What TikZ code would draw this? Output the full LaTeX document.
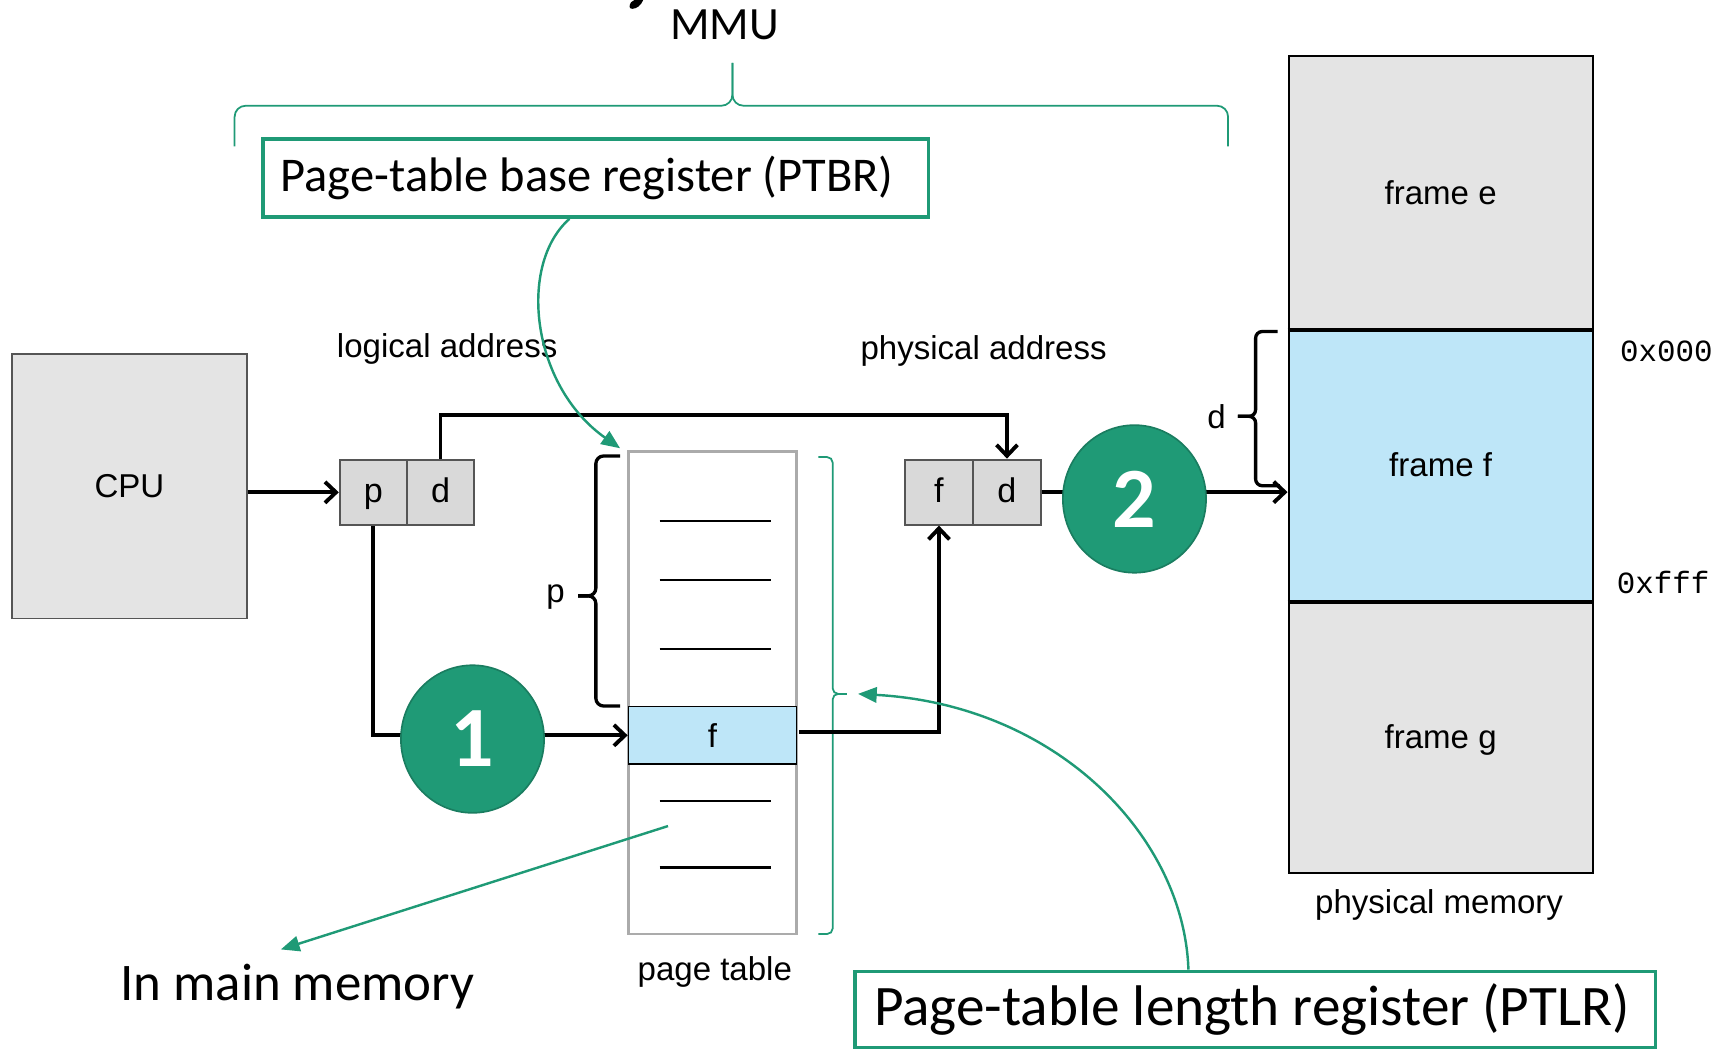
\documentclass[tikz,border=0pt]{standalone}
\usepackage{fontspec}
\setmainfont{Liberation Sans}
\newfontfamily\calfont{Carlito}
\newfontfamily\monofont{Liberation Mono}
\usetikzlibrary{arrows.meta,shapes.geometric}
\definecolor{gr}{HTML}{1F9A76}
\definecolor{grdark}{HTML}{1A7D60}
\definecolor{lblue}{HTML}{BEE6F8}
\definecolor{lgray}{HTML}{E4E4E4}
\definecolor{mgray}{HTML}{D9D9D9}
\definecolor{bgray}{HTML}{555555}
\definecolor{tgray}{HTML}{ABABAB}
\newcommand\fs[1]{\fontsize{#1}{#1}\selectfont}
\begin{document}
\begin{tikzpicture}[x=1pt,y=-1pt,
  lbl/.style={font=\fs{30}, inner sep=0pt, anchor=base},
  cell/.style={draw=bgray, line width=1.8pt, fill=mgray, inner sep=0pt,
    minimum width=61pt, minimum height=59pt, font=\fs{31},
    text height=23pt, text depth=5pt},
  frm/.style={draw=black, line width=2pt, fill=lgray, inner sep=0pt,
    minimum width=276pt, font=\fs{30}, text height=21.5pt, text depth=0pt},
  arr/.style={line width=3.5pt, -{Straight Barb[length=10pt,width=19pt,line width=3.5pt]}},
  garr/.style={draw=gr, line width=2.2pt, -{Triangle[length=17pt,width=14pt]}},
  gbrace/.style={draw=gr, line width=1.6pt, rounded corners=6pt},
  bbrace/.style={draw=black, line width=3pt, rounded corners=7pt},
  regbox/.style={draw=gr, line width=3.5pt, fill=white, inner sep=0pt},
  circ/.style={ellipse, fill=gr, draw=grdark, line width=1.5pt,
    minimum width=130pt, minimum height=134pt, inner sep=0pt,
    text=white, font=\calfont\bfseries\fs{78}}
]
\useasboundingbox (0,0) rectangle (1568,952);

% clipped fragment of a title glyph
\fill (576,0) -- (584,0) .. controls (582,5) and (578,8) .. (574,8) .. controls (571,8) and (571,5) .. (573,2) -- cycle;

% MMU brace
\node[font=\calfont\fs{42}, inner sep=0pt, anchor=base] (mmu) at (658,36.3) {MMU};
\draw[gbrace, rounded corners=10pt] (213,133) -- (213,96) -- (665,96) -- (665,57);
\draw[gbrace, rounded corners=10pt] (665,57) -- (665,96) -- (1115,96) -- (1115,133);

% PTBR box
\node[regbox, minimum width=604pt, minimum height=71pt, font=\calfont\fs{44}] (ptbr) at (541,161.5) {\hspace*{-16pt}Page-table base register (PTBR)};

% CPU
\node[draw=bgray, line width=1.5pt, fill=lgray, minimum width=213pt, minimum height=240pt, inner sep=0pt, font=\fs{30}] (cpu) at (117.5,441.5) {CPU};

% logical address
\node[lbl] (lalab) at (406,325) {logical address};
\node[cell] (lp) at (339,447) {p};
\node[cell] (ld) at (400,447) {d};

% physical address
\node[lbl] (palab) at (893,326.8) {physical address};
\node[cell, minimum width=62pt] (pf) at (852.5,446.8) {f};
\node[cell, minimum width=61.5pt] (pd) at (914.25,446.8) {d};

% page table
\node[draw=tgray, line width=2.5pt, fill=white, minimum width=152.5pt, minimum height=438pt, inner sep=0pt] (pt) at (646.75,629) {};
\node[draw=black, line width=1.2pt, fill=lblue, minimum width=152.5pt, minimum height=52pt, inner sep=0pt, font=\fs{30}] (ptf) at (646.75,667.65) {f};
\foreach \yy in {473,526.6,589.5,727.3,787.5}
  \draw[line width=2.2pt] (599,\yy) -- (700,\yy);
\node[lbl] (ptlab) at (649,890) {page table};

% p brace
\draw[bbrace] (563,414) -- (541,414) -- (541,541) -- (525,541);
\draw[bbrace] (525,541) -- (541,541) -- (541,641) -- (563,641);
\node[font=\fs{30}, inner sep=0pt] (plab) at (504.5,542.5) {p};

% green length brace
\draw[gbrace, rounded corners=5pt] (743,415) -- (756,415) -- (756,630) -- (769,630);
\draw[gbrace, rounded corners=5pt] (769,630) -- (756,630) -- (756,848) -- (743,848);

% physical memory
\node[frm, minimum height=247.5pt] (fe) at (1308,174.75) {frame e};
\node[frm, minimum height=247.2pt, fill=lblue] (ff) at (1308,422.1) {frame f};
\node[frm, minimum height=246.8pt] (fg) at (1308,669.1) {frame g};
\draw[line width=3.5pt] (fe.south west) -- (fe.south east);
\draw[line width=3.5pt] (ff.south west) -- (ff.south east);
\node[lbl] (pmlab) at (1306.6,829) {physical memory};
\node[lbl, font=\monofont\fs{28}] (a0) at (1513,328.4) {0x000};
\node[lbl, font=\monofont\fs{28}] (a1) at (1510,538.7) {0xfff};

% d brace
\draw[bbrace, rounded corners=6pt] (1160,301) -- (1140,301) -- (1140,378) -- (1124,378);
\draw[bbrace, rounded corners=6pt] (1124,378) -- (1140,378) -- (1140,441) -- (1162,441);
\node[font=\fs{30}, inner sep=0pt] (dlab) at (1104.5,378) {d};

% black connectors
\coordinate (toprow) at (0,377);
\draw[arr] (cpu.east |- lp.west) -- (lp.west);
\draw[arr] (ld.north) -- (ld.north |- toprow) -- (pd.north |- toprow) -- (pd.north);
\draw[arr] (lp.south) |- (ptf.west);
\draw[arr, shorten <=2pt] ([yshift=3pt]ptf.east) -| (pf.south);
\draw[arr] (pd.east) -- (pd.east -| ff.west);

% step circles
\node[circ] (c1) at (429,671) {1};
\node[circ] (c2) at (1030,453) {2};

% PTLR box
\node[regbox, minimum width=727pt, minimum height=69.5pt, font=\calfont\fs{52}] (ptlr) at (1139.6,916.8) {\hspace*{-6pt}Page-table length register (PTLR)};

% in main memory
\node[font=\calfont\fs{48}, inner sep=0pt, anchor=base] (imm) at (270,908) {In main memory};

% green arrows
\coordinate (ptbrtip) at (563,407);
\coordinate (ptlrtip) at (779,630);
\coordinate (immstart) at (606.5,750);
\coordinate (immtip) at (255,862);
\draw[garr] ([xshift=-24pt]ptbr.south) .. controls (470,240) and (482,350) .. (ptbrtip);
\draw[garr] ([xshift=-60.6pt]ptlr.north) .. controls (1075,760) and (960,640) .. (ptlrtip);
\draw[garr] (immstart) -- (immtip);
\end{tikzpicture}
\end{document}
